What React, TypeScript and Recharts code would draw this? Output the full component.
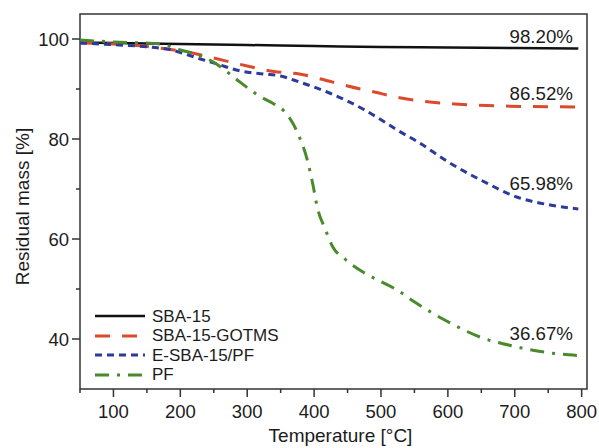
import React from 'react';
import { ComposedChart, Line, Scatter, XAxis, YAxis, ReferenceArea } from 'recharts';

// temperature (°C) / residual mass (%)
const sbaT = [50, 100, 200, 300, 400, 500, 600, 700, 795];
const sbaM = [99.3, 99.2, 99.0, 98.8, 98.6, 98.4, 98.3, 98.2, 98.1];

const gotmsT = [50, 100, 150, 180, 218, 250, 300, 340, 378, 410, 450, 490, 530, 560, 610, 680, 795];
const gotmsM = [99.2, 99.0, 98.5, 98.0, 97.2, 96.2, 94.6, 93.5, 93.0, 92.0, 90.6, 89.4, 88.2, 87.6, 87.0, 86.6, 86.4];

const esbaT = [50, 80, 180, 200, 230, 255, 290, 325, 350, 378, 423, 473, 503, 524, 553, 603, 652, 703, 753, 795];
const esbaM = [99.2, 99.0, 98.0, 97.3, 96.0, 95.0, 93.6, 93.0, 92.6, 91.4, 89.2, 86.0, 83.6, 81.8, 79.6, 75.2, 71.6, 68.4, 66.8, 66.0];

const pfT = [50, 100, 170, 200, 218, 254, 274, 289, 318, 340, 355, 368, 378, 389, 398, 405, 416, 428, 446, 473, 498, 524, 548, 598, 648, 697, 748, 795];
const pfM = [99.8, 99.4, 99.0, 97.8, 97.2, 95.0, 93.0, 91.4, 88.6, 87.0, 85.6, 83.2, 80.4, 76.2, 71.0, 66.2, 62.2, 58.4, 56.0, 53.4, 51.6, 49.8, 47.6, 43.6, 40.4, 38.6, 37.3, 36.7];

const seriesNames = ['SBA-15', 'SBA-15-GOTMS', 'E-SBA-15/PF', 'PF'];
const seriesColors = ['#111111', '#dc4a2c', '#2c3a9c', '#4b8a2c'];
const seriesDash = ['', '15 12', '7 5', '14 8 3 8'];

// final residual mass labels
const annT = [787, 787, 787, 787];
const annM = [100.6, 89.2, 71.2, 41.2];
const annText = ['98.20%', '86.52%', '65.98%', '36.67%'];

const xMajor = [100, 200, 300, 400, 500, 600, 700, 800];
const xMinor = [50, 150, 250, 350, 450, 550, 650, 750];
const yMajor = [40, 60, 80, 100];
const yMinor = [50, 70, 90];

const FONT = "'Liberation Sans', Arial, sans-serif";
const INK = '#1c1c1c';

const toPoints = (t: number[], m: number[]) => t.map((v, i) => ({ t: v, m: m[i] }));
const seriesData = [toPoints(sbaT, sbaM), toPoints(gotmsT, gotmsM), toPoints(esbaT, esbaM), toPoints(pfT, pfM)];
const annData = annT.map((t, i) => ({ t, m: annM[i], text: annText[i] }));

const XTick = (props: any) => {
  const { x, y, payload } = props;
  const major = xMajor.includes(payload.value);
  return (
    <g>
      <line x1={x} x2={x} y1={y} y2={y + (major ? 8 : 4)} stroke="#333" strokeWidth={1.5} />
      {major && (
        <text x={x} y={y + 22} textAnchor="middle" dominantBaseline="central" fontSize={18.5} fontFamily={FONT} fill={INK}>
          {payload.value}
        </text>
      )}
    </g>
  );
};

const YTick = (props: any) => {
  const { x, y, payload } = props;
  const major = yMajor.includes(payload.value);
  return (
    <g>
      <line x1={x - (major ? 8 : 4)} x2={x} y1={y} y2={y} stroke="#333" strokeWidth={1.5} />
      {major && (
        <text x={x - 11} y={y} textAnchor="end" dominantBaseline="central" fontSize={18.5} fontFamily={FONT} fill={INK}>
          {payload.value}
        </text>
      )}
    </g>
  );
};

const AnnLabel = (props: any) => {
  const { cx, cy, payload } = props;
  return (
    <text x={cx} y={cy} textAnchor="end" dominantBaseline="central" fontSize={18.7} fontFamily={FONT} fill={INK}>
      {payload.text}
    </text>
  );
};

export default function App() {
  return (
    <div style={{ position: 'absolute', left: 0, top: 0, width: 599, height: 448, background: '#fff' }}>
      <ComposedChart width={599} height={448} margin={{ top: 14, right: 12, left: 0, bottom: 0 }}>
        <XAxis
          dataKey="t"
          type="number"
          domain={[50, 808]}
          ticks={[...xMinor, ...xMajor].sort((a, b) => a - b)}
          interval={0}
          tick={<XTick />}
          tickLine={false}
          tickSize={0}
          tickMargin={0}
          axisLine={false}
          height={59}
          label={{
            content: (p: any) => {
              const vb = p.viewBox;
              return (
                <text x={vb.x + vb.width / 2 + 7} y={vb.y + 46} textAnchor="middle" dominantBaseline="central" fontSize={19} fontFamily={FONT} fill={INK}>
                  Temperature [°C]
                </text>
              );
            },
          }}
        />
        <YAxis
          dataKey="m"
          type="number"
          domain={[30, 105]}
          ticks={[...yMajor, ...yMinor].sort((a, b) => a - b)}
          interval={0}
          tick={<YTick />}
          tickLine={false}
          tickSize={0}
          tickMargin={0}
          axisLine={false}
          width={80}
          label={{
            content: (p: any) => {
              const vb = p.viewBox;
              const cx = vb.x + 22;
              const cy = vb.y + vb.height / 2 + 5;
              return (
                <text x={cx} y={cy} transform={`rotate(-90 ${cx} ${cy})`} textAnchor="middle" dominantBaseline="central" fontSize={19} fontFamily={FONT} fill={INK}>
                  Residual mass [%]
                </text>
              );
            },
          }}
        />
        <ReferenceArea x1={50} x2={808} y1={30} y2={105} fill="none" stroke="#333" strokeWidth={1.5} ifOverflow="visible" />
        {seriesData.map((d, i) => (
          <Line
            key={seriesNames[i]}
            data={d}
            dataKey="m"
            name={seriesNames[i]}
            type="monotone"
            stroke={seriesColors[i]}
            strokeWidth={i === 0 ? 2.5 : 3}
            strokeDasharray={seriesDash[i] || undefined}
            dot={false}
            activeDot={false}
            isAnimationActive={false}
          />
        ))}
        <Scatter data={annData} dataKey="m" shape={<AnnLabel />} isAnimationActive={false} />
      </ComposedChart>
      <div style={{ position: 'absolute', left: 95, top: 306.5, fontFamily: FONT, fontSize: 17, color: INK }}>
        {seriesNames.map((n, i) => (
          <div key={n} style={{ display: 'flex', alignItems: 'center', height: 19.5, lineHeight: '19.5px' }}>
            <svg width={50} height={10} style={{ marginRight: 7 }}>
              <line x1={0} x2={50} y1={5} y2={5} stroke={seriesColors[i]} strokeWidth={i === 0 ? 2.5 : 3} strokeDasharray={seriesDash[i] || undefined} />
            </svg>
            <span>{n}</span>
          </div>
        ))}
      </div>
    </div>
  );
}
